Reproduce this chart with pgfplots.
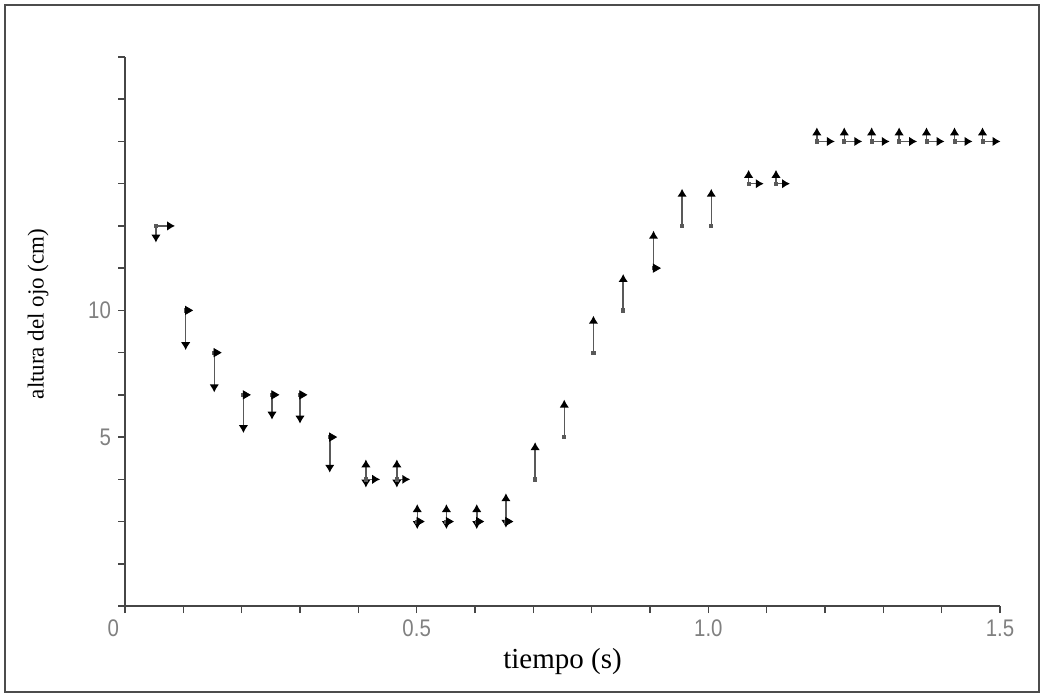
\documentclass[border=0pt]{standalone}
\usepackage{fontspec}
\setmainfont{Liberation Serif}
\newfontfamily\tickfont[FakeStretch=0.85]{Liberation Sans}
\usepackage{pgfplots}
\usepackage{pgfplotstable}
\pgfplotsset{compat=1.18}
\usetikzlibrary{arrows.meta}

% vertical arrows: start point (t,y), change dy
\pgfplotstableread{
t     y       dx  dy
0.053 13.333  0   -0.66
0.104 10.000  0   -1.57
0.153 8.333   0   -1.57
0.203 6.667   0   -1.51
0.252 6.667   0   -0.98
0.300 6.667   0   -1.14
0.351 5.000   0   -1.41
0.413 3.333   0    0.79
0.413 3.333   0   -0.33
0.466 3.333   0    0.79
0.466 3.333   0   -0.33
0.501 1.667   0    0.69
0.501 1.667   0   -0.30
0.551 1.667   0    0.69
0.551 1.667   0   -0.30
0.603 1.667   0    0.69
0.603 1.667   0   -0.30
0.653 1.667   0    1.12
0.653 1.667   0   -0.25
0.703 3.333   0    1.47
0.753 5.000   0    1.48
0.803 8.333   0    1.46
0.854 10.000  0    1.44
0.906 11.667  0    1.48
0.955 13.333  0    1.47
1.005 13.333  0    1.47
1.069 15.000  0    0.55
1.116 15.000  0    0.55
1.186 16.667  0    0.56
1.233 16.667  0    0.56
1.280 16.667  0    0.56
1.327 16.667  0    0.56
1.374 16.667  0    0.56
1.422 16.667  0    0.56
1.470 16.667  0    0.56
}\vertarrows

% horizontal arrows: start point (t,y), change dx
\pgfplotstableread{
t     y       dx      dy
0.053 13.333  0.033   0
0.413 3.333   0.0245  0
0.466 3.333   0.023   0
1.069 15.000  0.026   0
1.116 15.000  0.024   0
1.186 16.667  0.031   0
1.233 16.667  0.031   0
1.280 16.667  0.031   0
1.327 16.667  0.031   0
1.374 16.667  0.031   0
1.422 16.667  0.031   0
1.470 16.667  0.031   0
}\horarrows

% horizontal changes too short for a shaft: head only
\pgfplotstableread{
t     y
0.104 10.000
0.153 8.333
0.203 6.667
0.252 6.667
0.300 6.667
0.351 5.000
0.501 1.667
0.551 1.667
0.603 1.667
0.653 1.667
0.906 11.667
}\shortheads

\begin{document}
\begin{tikzpicture}
\useasboundingbox (0,0) rectangle (521.5pt,349pt);
\draw[gray!60!black, line width=0.8pt] (2.5pt,3pt) rectangle (519.5pt,346.5pt);
\begin{axis}[
  at={(62.5pt,46pt)}, anchor=south west,
  scale only axis, width=437.5pt, height=274.5pt,
  xmin=0, xmax=1.5, ymin=-1.6667, ymax=20,
  axis lines*=left,
  axis line style={gray!55!black, line width=1pt},
  tick style={gray!55!black, line width=0.8pt},
  tick align=outside, major tick length=3.5pt,
  xtick={0,0.1,0.2,0.3,0.4,0.5,0.6,0.7,0.8,0.9,1.0,1.1,1.2,1.3,1.4,1.5},
  xticklabels={\llap{0\kern3pt},,,,,0.5,,,,,1.0,,,,,1.5},
  ytick={-1.6667,0,1.6667,3.3333,5,6.6667,8.3333,10,11.6667,13.3333,15,16.6667,18.3333,20},
  yticklabels={,,,,5,,,10,,,,,,},
  ticklabel style={font=\tickfont\fontsize{12}{13}\selectfont, text=gray},
  xlabel={tiempo (s)}, ylabel={altura del ojo (cm)},
  xlabel style={font=\fontsize{14.5}{16}\selectfont, at={(axis description cs:0.5,-0.102)}, anchor=center},
  ylabel style={font=\fontsize{11.5}{13}\selectfont, at={(axis description cs:-0.0994,0.532)}, anchor=center},
  clip=false,
]
\addplot[only marks, mark=square*, mark size=0.8pt, gray!70!black] table[x=t,y=y] {\vertarrows};
\addplot[no markers, draw=gray!70!black, line width=0.75pt,
  -{Latex[length=4pt,width=4.8pt,color=black]},
  quiver={u=\thisrow{dx}, v=\thisrow{dy}}] table[x=t,y=y] {\vertarrows};
\addplot[no markers, draw=gray!70!black, line width=0.75pt,
  -{Latex[length=4pt,width=4.8pt,color=black]},
  quiver={u=\thisrow{dx}, v=\thisrow{dy}}] table[x=t,y=y] {\horarrows};
\addplot[only marks, mark=triangle*, mark size=2.3pt, black,
  mark options={rotate=-90, fill=black}]
  table[x expr=\thisrow{t}+0.0035, y=y] {\shortheads};
\end{axis}
\end{tikzpicture}
\end{document}
